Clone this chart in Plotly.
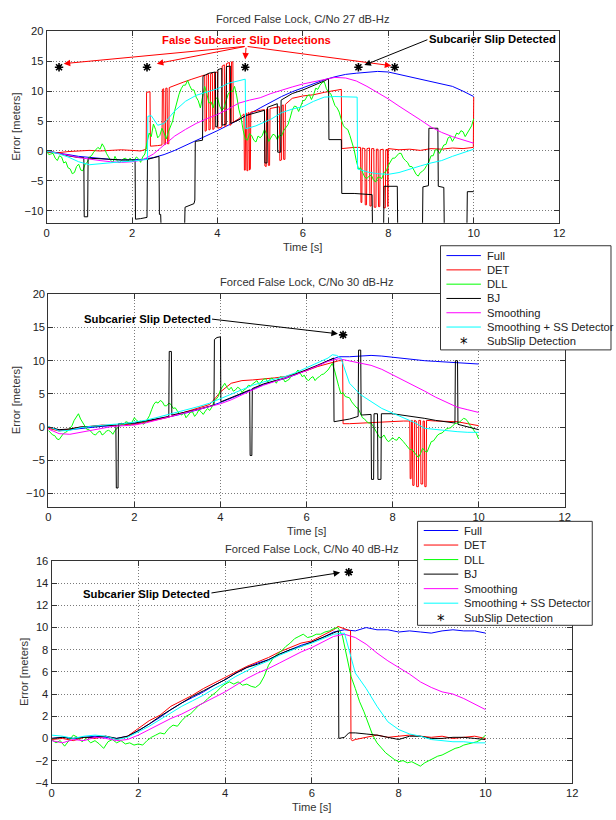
import plotly.graph_objects as go

W, H = 616, 820
FONT = "Liberation Sans, Arial, sans-serif"

# ---------------- time grids ----------------
T_Q = [0.0, 0.25, 0.5, 0.75, 1.0, 1.25, 1.5, 1.75, 2.0, 2.25, 2.5, 2.75, 3.0, 3.25, 3.5, 3.75,
       4.0, 4.25, 4.5, 4.75, 5.0, 5.25, 5.5, 5.75, 6.0, 6.25, 6.5, 6.75, 7.0, 7.25, 7.5, 7.75,
       8.0, 8.25, 8.5, 8.75, 9.0, 9.25, 9.5, 9.75, 10.0]
T_D = [0.0, 0.1, 0.2, 0.3, 0.4, 0.5, 0.6, 0.7, 0.8, 0.9, 1.0, 1.1, 1.2, 1.3, 1.4, 1.5, 1.6, 1.7,
       1.8, 1.9, 2.0, 2.1, 2.2, 2.3, 2.4, 2.5, 2.6, 2.7, 2.8, 2.9, 3.0, 3.1, 3.2, 3.3, 3.4, 3.5,
       3.6, 3.7, 3.8, 3.9, 4.0, 4.1, 4.2, 4.3, 4.4, 4.5, 4.6, 4.7, 4.8, 4.9, 5.0, 5.1, 5.2, 5.3,
       5.4, 5.5, 5.6, 5.7, 5.8, 5.9, 6.0, 6.1, 6.2, 6.3, 6.4, 6.5, 6.6, 6.7, 6.8, 6.9, 7.0, 7.1,
       7.2, 7.3, 7.4, 7.5, 7.6, 7.7, 7.8, 7.9, 8.0, 8.1, 8.2, 8.3, 8.4, 8.5, 8.6, 8.7, 8.8, 8.9,
       9.0, 9.1, 9.2, 9.3, 9.4, 9.5, 9.6, 9.7, 9.8, 9.9, 10.0]
T_H = [0.0, 0.05, 0.1, 0.15, 0.2, 0.25, 0.3, 0.35, 0.4, 0.45, 0.5, 0.55, 0.6, 0.65, 0.7, 0.75, 0.8, 0.85, 0.9, 0.95,
       1.0, 1.05, 1.1, 1.15, 1.2, 1.25, 1.3, 1.35, 1.4, 1.45, 1.5, 1.55, 1.6, 1.65, 1.7, 1.75, 1.8, 1.85, 1.9, 1.95,
       2.0, 2.05, 2.1, 2.15, 2.2, 2.25, 2.3, 2.35, 2.4, 2.45, 2.5, 2.55, 2.6, 2.65, 2.7, 2.75, 2.8, 2.85, 2.9, 2.95,
       3.0, 3.05, 3.1, 3.15, 3.2, 3.25, 3.3, 3.35, 3.4, 3.45, 3.5, 3.55, 3.6, 3.65, 3.7, 3.75, 3.8, 3.85, 3.9, 3.95,
       4.0, 4.05, 4.1, 4.15, 4.2, 4.25, 4.3, 4.35, 4.4, 4.45, 4.5, 4.55, 4.6, 4.65, 4.7, 4.75, 4.8, 4.85, 4.9, 4.95,
       5.0, 5.05, 5.1, 5.15, 5.2, 5.25, 5.3, 5.35, 5.4, 5.45, 5.5, 5.55, 5.6, 5.65, 5.7, 5.75, 5.8, 5.85, 5.9, 5.95,
       6.0, 6.05, 6.1, 6.15, 6.2, 6.25, 6.3, 6.35, 6.4, 6.45, 6.5, 6.55, 6.6, 6.65, 6.7, 6.75, 6.8, 6.85, 6.9, 6.95,
       7.0, 7.05, 7.1, 7.15, 7.2, 7.25, 7.3, 7.35, 7.4, 7.45, 7.5, 7.55, 7.6, 7.65, 7.7, 7.75, 7.8, 7.85, 7.9, 7.95,
       8.0, 8.05, 8.1, 8.15, 8.2, 8.25, 8.3, 8.35, 8.4, 8.45, 8.5, 8.55, 8.6, 8.65, 8.7, 8.75, 8.8, 8.85, 8.9, 8.95,
       9.0, 9.05, 9.1, 9.15, 9.2, 9.25, 9.3, 9.35, 9.4, 9.45, 9.5, 9.55, 9.6, 9.65, 9.7, 9.75, 9.8, 9.85, 9.9, 9.95,
       10.0]

X_TICKS = [0, 2, 4, 6, 8, 10, 12]
Y_TICKS_A = [-10, -5, 0, 5, 10, 15, 20]
Y_TICKS_B = [-4, -2, 0, 2, 4, 6, 8, 10, 12, 14, 16]

TITLES = ["Forced False Lock, C/No 27 dB-Hz", "Forced False Lock, C/No 30 dB-Hz",
          "Forced False Lock, C/No 40 dB-Hz"]
LEGEND_LABELS = ["Full", "DET", "DLL", "BJ", "Smoothing", "Smoothing + SS Detector", "SubSlip Detection"]
COLORS = ["#0000ff", "#ff0000", "#00ff00", "#000000", "#ff00ff", "#00ffff", "#000000"]

# ---------------- panel 1 : 27 dB-Hz ----------------
p1_full = [-0.1, -0.3, -0.6, -0.9, -1.1, -1.3, -1.4, -1.5, -1.5, -1.4, -1.1, -0.6, 0.1, 0.9, 1.8, 2.6,
           3.4, 4.3, 5.2, 6.2, 7.2, 8.2, 9.1, 9.9, 10.6, 11.3, 11.9, 12.4, 12.8, 13.0, 13.2, 13.3,
           13.2, 12.8, 12.4, 12.1, 11.7, 11.3, 10.8, 10.0, 9.1]
p1_smooth = [0.0, -0.3, -0.7, -1.1, -1.4, -1.6, -1.8, -1.9, -1.8, -1.5, -0.5, 1.0, 2.5, 3.6, 4.6, 5.4,
             6.1, 7.0, 8.0, 8.5, 8.9, 9.6, 10.2, 10.7, 11.2, 11.6, 12.0, 12.3, 12.2, 11.7, 10.8, 9.8,
             8.7, 7.5, 6.4, 5.2, 4.0, 3.1, 2.4, 1.8, 1.3]
p1_ss = [(0.0, 0.0), (0.25, -0.4), (0.5, -1.0), (0.75, -1.8), (1.0, -2.3), (1.25, -2.1), (1.5, -1.9),
         (1.75, -1.8), (2.0, -1.7), (2.3, -1.5), (2.36, -1.4), (2.37, 5.8), (2.45, 5.9), (2.6, 4.3),
         (2.75, 4.6), (3.0, 6.7), (3.25, 8.3), (3.5, 9.3), (3.75, 9.9), (4.0, 10.4), (4.25, 11.3),
         (4.5, 11.8), (4.65, 12.0), (4.66, 3.7), (4.9, 4.2), (5.25, 5.3), (5.5, 6.4), (5.75, 7.0),
         (6.0, 7.4), (6.25, 8.3), (6.5, 9.0), (6.75, 9.1), (7.0, 9.1), (7.27, 9.0), (7.28, -3.0),
         (7.5, -3.5), (7.75, -3.8), (8.0, -3.9), (8.25, -3.6), (8.5, -3.0), (8.75, -2.5), (9.0, -2.0),
         (9.25, -1.6), (9.5, -0.9), (9.75, -0.3), (10.0, 0.3)]
p1_det = [(0.0, -0.2), (0.25, -0.3), (0.5, -0.1), (0.75, 0.0), (1.0, 0.1), (1.25, 0.0), (1.5, 0.1),
          (1.75, 0.2), (2.0, 0.1), (2.2, 0.0), (2.33, 0.3), (2.34, 9.8), (2.42, 9.9), (2.43, 0.8),
          (2.6, 0.9), (2.7, 1.0), (2.71, 10.3), (2.74, 10.4), (2.75, 1.1), (2.78, 1.1), (2.79, 10.5),
          (2.82, 10.5), (2.83, 1.2), (2.86, 1.2), (2.87, 10.6), (3.0, 11.0), (3.2, 11.5), (3.4, 12.0),
          (3.6, 12.5), (3.7, 12.7), (3.71, 3.3), (3.74, 3.4), (3.75, 12.8), (3.79, 12.8), (3.8, 3.5),
          (3.83, 3.6), (3.84, 12.9), (3.88, 13.0), (3.89, 3.6), (3.92, 3.7), (3.93, 13.1), (4.0, 13.2),
          (4.01, 3.8), (4.1, 4.0), (4.11, 14.2), (4.16, 14.4), (4.17, 4.1), (4.2, 4.2), (4.21, 14.6),
          (4.28, 14.8), (4.29, 4.3), (4.32, 4.4), (4.33, 14.9), (4.36, 14.9), (4.37, 4.8), (4.5, 5.4),
          (4.62, 6.2), (4.63, -3.2), (4.65, -3.2), (4.66, 6.3), (4.68, 6.3), (4.69, -3.3), (4.71, -3.3),
          (4.72, 6.4), (4.74, 6.4), (4.75, -3.2), (4.77, -3.0), (4.78, 6.5), (5.0, 6.8), (5.1, 6.9),
          (5.11, -2.5), (5.14, -2.6), (5.15, 7.0), (5.18, 7.0), (5.19, -2.4), (5.22, -2.4), (5.23, 7.1),
          (5.45, 7.4), (5.46, -1.6), (5.5, -1.5), (5.51, 7.6), (5.54, 7.7), (5.55, -1.4), (5.58, -1.4),
          (5.59, 7.8), (5.75, 8.8), (6.0, 9.2), (6.25, 9.4), (6.5, 9.8), (6.75, 10.1), (6.9, 10.3),
          (6.91, 0.4), (7.0, 0.5), (7.2, 0.6), (7.35, 0.6), (7.36, -8.6), (7.38, -8.6), (7.39, 0.5),
          (7.45, 0.4), (7.46, -9.0), (7.49, -9.0), (7.5, 0.4), (7.56, 0.5), (7.57, -9.2), (7.6, -9.2),
          (7.61, 0.4), (7.66, 0.4), (7.67, -9.4), (7.71, -9.4), (7.72, 0.3), (7.76, 0.3), (7.77, -9.3),
          (7.8, -9.3), (7.81, 0.2), (7.88, 0.3), (7.89, -9.5), (7.93, -9.5), (7.94, 0.2), (7.98, 0.3),
          (7.99, -9.3), (8.0, 0.4), (8.25, 0.2), (8.5, 0.3), (8.75, 0.1), (9.0, 0.4), (9.25, 0.3),
          (9.5, 0.5), (9.75, 0.4), (9.99, 0.6), (10.0, 9.0)]
p1_bj = [(0.0, 0.0), (0.25, -0.3), (0.5, -0.8), (0.75, -1.1), (0.87, -1.1), (0.88, -11.0), (0.96, -11.0),
         (0.97, -1.2), (1.25, -1.3), (1.5, -1.4), (1.75, -1.5), (2.07, -1.5), (2.08, -11.4), (2.2, -11.3),
         (2.35, -11.1), (2.36, -1.4), (2.5, -1.1), (2.63, -0.9), (2.64, -10.6), (2.67, -10.6),
         (2.68, -13.0), (3.23, -13.0), (3.24, -9.4), (3.45, -8.8), (3.47, -8.2), (3.48, 1.6), (3.65, 1.8),
         (3.66, 12.5), (3.8, 13.0), (3.95, 13.2), (3.96, 4.0), (4.0, 4.1), (4.01, 13.6), (4.1, 13.8),
         (4.11, 4.3), (4.2, 4.5), (4.21, 14.1), (4.3, 14.2), (4.31, 4.6), (4.5, 5.2), (4.65, 5.9),
         (4.9, 6.4), (5.1, 6.8), (5.11, -2.0), (5.16, -2.0), (5.17, 7.3), (5.3, 7.7), (5.4, 7.9),
         (5.41, -0.2), (5.48, -0.2), (5.49, 8.5), (5.75, 9.6), (6.0, 10.2), (6.25, 10.9), (6.5, 11.7),
         (6.6, 12.1), (6.61, 1.9), (6.9, 1.9), (6.91, -7.1), (7.2, -7.1), (7.4, -7.2), (7.62, -7.3),
         (7.63, -13.0), (7.89, -13.0), (7.9, -5.9), (8.21, -5.9), (8.22, -13.0), (8.8, -13.0),
         (8.81, -6.0), (8.94, -5.8), (8.95, 3.8), (9.16, 3.8), (9.17, -5.9), (9.3, -6.1), (9.31, -13.0),
         (9.84, -13.0), (9.85, -6.8), (10.0, -6.8)]
p1_dll = [0.0, -0.6, -0.5, -0.4, -1.2, -1.6, -0.8, -1.0, -2.0, -1.8, -2.8, -3.0, -3.8, -3.6, -2.6, -2.2, -3.2, -3.3, -2.2, -1.9,
          -1.0, -0.8, -0.2, 0.2, 0.6, 0.3, 1.2, 0.6, -0.4, -1.0, -1.6, -1.9, -0.9, -1.6, -2.0, -1.6, -1.3, -1.2, -1.8, -1.2,
          -1.5, -1.6, -1.0, -1.3, -1.9, -1.0, -0.5, 1.4, 3.0, 2.4, 4.5, 3.6, 2.2, 2.6, 3.8, 3.0, 2.0, 3.2, 4.0, 5.0,
          6.8, 8.4, 9.5, 10.4, 11.0, 11.0, 11.8, 10.9, 10.2, 10.2, 9.0, 8.4, 7.2, 9.0, 10.8, 9.6, 8.0, 8.2, 7.2, 8.6,
          9.0, 7.5, 6.8, 7.2, 8.5, 9.5, 10.0, 9.9, 10.8, 9.2, 7.0, 5.6, 3.5, 2.0, 1.8, 2.9, 2.6, 1.8, 1.5, 2.5,
          2.2, 2.6, 3.6, 2.8, 1.6, 2.3, 2.8, 2.6, 1.9, 2.7, 2.5, 3.4, 4.0, 4.4, 5.5, 6.8, 7.5, 7.4, 6.6, 7.4,
          8.4, 8.5, 9.2, 9.4, 8.6, 9.4, 10.5, 10.3, 11.0, 11.4, 11.6, 10.4, 9.8, 9.6, 8.6, 7.6, 7.2, 6.5, 5.2, 4.2,
          3.8, 3.6, 2.6, 1.5, 0.2, -1.6, -3.0, -2.8, -3.6, -4.4, -4.6, -4.2, -4.0, -4.8, -5.2, -4.4, -4.4, -4.6, -3.6, -3.4,
          -2.4, -1.8, -1.2, -1.2, -0.8, -0.4, -0.4, -1.2, -1.6, -1.9, -2.6, -2.6, -3.2, -3.9, -4.2, -3.6, -3.4, -3.0, -2.4, -1.8,
          -0.8, -0.8, 0.2, 0.2, -0.4, 0.4, 1.0, 1.1, 2.2, 2.4, 1.6, 2.2, 3.0, 2.8, 3.4, 3.2, 2.4, 3.0, 3.6, 4.2,
          5.4]
p1_slip_t = [0.29, 2.35, 4.65, 7.30, 8.15]
p1_slip_v = [14.0, 14.0, 14.0, 14.0, 14.0]

# ---------------- panel 2 : 30 dB-Hz ----------------
p2_full = [0.0, -0.5, -0.4, -0.2, 0.0, 0.1, 0.2, 0.3, 0.5, 0.8, 1.1, 1.5, 1.8, 2.2, 2.6, 3.1,
           3.7, 4.3, 5.0, 5.7, 6.4, 6.9, 7.3, 7.9, 8.5, 9.2, 10.0, 10.6, 10.6, 10.7, 10.8, 10.7,
           10.5, 10.4, 10.2, 10.0, 9.9, 9.8, 9.7, 9.6, 9.5]
p2_smooth = [-0.3, -1.0, -1.1, -0.8, -0.4, -0.1, 0.1, 0.2, 0.3, 0.6, 1.0, 1.4, 1.8, 2.2, 2.6, 3.1,
             3.5, 4.1, 4.9, 5.6, 6.3, 6.8, 7.3, 7.9, 8.5, 9.2, 9.9, 10.3, 10.0, 9.7, 9.3, 8.7,
             7.9, 7.1, 6.3, 5.4, 4.5, 3.7, 3.0, 2.6, 2.2]
p2_ss = [(0.0, 0.1), (0.25, -0.6), (0.5, -0.5), (0.75, -0.1), (1.0, 0.1), (1.25, 0.3), (1.5, 0.4),
         (1.75, 0.5), (2.0, 0.7), (2.25, 1.0), (2.5, 1.4), (2.75, 1.8), (3.0, 2.2), (3.25, 2.6),
         (3.5, 3.1), (3.75, 3.6), (4.0, 4.3), (4.25, 5.0), (4.5, 5.7), (4.75, 6.3), (5.0, 6.8),
         (5.25, 7.2), (5.5, 7.6), (5.75, 8.2), (6.0, 8.9), (6.25, 9.6), (6.5, 10.4), (6.6, 10.9),
         (6.7, 10.8), (6.8, 10.4), (7.0, 6.6), (7.25, 4.9), (7.5, 3.8), (7.75, 2.8), (8.0, 2.1),
         (8.25, 1.4), (8.5, 0.7), (8.75, -0.2), (9.0, -0.4), (9.25, -0.6), (9.5, -0.7), (9.75, -0.8),
         (10.0, -0.8)]
p2_det = [(0.0, -0.2), (0.25, -0.6), (0.5, -0.3), (0.75, 0.0), (1.0, 0.1), (1.25, 0.3), (1.5, 0.2),
          (1.75, 0.4), (2.0, 0.4), (2.25, 0.7), (2.5, 1.0), (2.75, 1.4), (3.0, 1.9), (3.25, 2.4),
          (3.5, 2.8), (3.75, 3.4), (3.9, 4.5), (4.0, 5.3), (4.25, 6.6), (4.5, 7.0), (4.75, 7.1),
          (5.0, 7.2), (5.25, 7.4), (5.5, 7.6), (5.75, 8.0), (6.0, 8.5), (6.25, 9.1), (6.5, 9.6),
          (6.75, 10.0), (6.84, 10.0), (6.85, 0.5), (7.0, 0.5), (7.25, 0.6), (7.5, 0.7), (7.75, 0.8),
          (8.0, 0.8), (8.25, 0.9), (8.4, 0.9), (8.41, -7.8), (8.43, -7.8), (8.44, 1.0), (8.46, 1.0),
          (8.47, -8.8), (8.5, -8.8), (8.51, 1.0), (8.55, 0.9), (8.56, -9.0), (8.6, -9.0), (8.61, 1.0),
          (8.65, 1.0), (8.66, -8.6), (8.7, -8.6), (8.71, 0.9), (8.74, 0.9), (8.75, -9.0), (8.78, -9.0),
          (8.79, 1.0), (9.0, 0.9), (9.25, 0.8), (9.5, 0.8), (9.75, 0.5), (10.0, 0.2)]
p2_bj = [(0.0, 0.0), (0.25, -0.4), (0.5, -0.3), (0.75, 0.0), (1.0, 0.1), (1.25, 0.2), (1.5, 0.3),
         (1.57, 0.3), (1.58, -9.2), (1.62, -9.2), (1.63, 0.5), (2.0, 0.6), (2.25, 0.9), (2.5, 1.2),
         (2.8, 1.6), (2.81, 11.4), (2.86, 11.4), (2.87, 1.8), (3.25, 2.3), (3.5, 2.7), (3.85, 3.3),
         (3.86, 13.2), (3.92, 13.5), (4.0, 13.6), (4.01, 3.8), (4.25, 4.4), (4.5, 5.1), (4.68, 5.6),
         (4.69, -4.3), (4.73, -4.3), (4.74, 5.8), (5.0, 6.5), (5.25, 6.9), (5.5, 7.4), (5.75, 8.0),
         (6.0, 8.6), (6.25, 9.3), (6.5, 10.0), (6.63, 10.4), (6.64, 0.8), (6.75, 0.9), (7.0, 1.2),
         (7.2, 1.6), (7.21, 11.6), (7.26, 11.6), (7.27, 1.8), (7.5, 1.9), (7.51, -7.9), (7.56, -7.9),
         (7.57, 2.0), (7.65, 2.0), (7.66, -7.9), (7.73, -7.9), (7.74, 2.0), (8.0, 2.0), (8.25, 1.8),
         (8.5, 1.5), (8.75, 1.3), (9.0, 1.0), (9.25, 0.8), (9.45, 0.6), (9.46, 10.0), (9.51, 10.0),
         (9.52, 0.4), (9.75, 0.0), (10.0, -0.4)]
p2_dll = [-0.5, -0.9, -1.2, -1.3, -1.8, -1.9, -1.5, -1.0, -0.8, -0.6, -0.2, 0.2, 1.0, 1.6, 2.0, 1.2, 0.6, 0.2, -0.4, -0.4,
          -0.8, -1.1, -1.2, -0.8, -0.6, -1.2, -1.0, -0.6, -0.5, -0.7, -1.1, -0.5, -0.2, 0.1, 0.6, 0.3, 0.8, 0.7, 0.2, 0.9,
          1.4, 1.0, 0.8, 0.9, 0.4, 0.6, 1.2, 1.7, 2.6, 3.4, 3.8, 3.6, 4.0, 3.8, 3.2, 3.2, 3.6, 3.4, 2.8, 2.9,
          2.4, 2.0, 1.8, 2.2, 1.4, 1.8, 2.2, 2.3, 1.6, 2.0, 2.6, 2.3, 1.9, 2.4, 2.8, 2.5, 3.0, 3.8, 4.2, 4.6,
          5.6, 6.2, 6.6, 6.0, 5.6, 6.0, 5.4, 5.6, 6.0, 5.8, 5.2, 5.6, 5.8, 6.3, 6.2, 6.5, 6.8, 7.0, 6.4, 6.8,
          7.2, 7.3, 6.8, 7.2, 7.4, 7.0, 6.6, 7.3, 7.6, 7.4, 6.8, 7.0, 7.2, 7.8, 8.0, 8.1, 8.6, 8.2, 7.6, 7.8,
          7.2, 7.0, 7.4, 7.6, 7.0, 7.4, 7.6, 7.9, 8.0, 8.3, 8.6, 9.1, 9.6, 8.6, 7.2, 6.1, 5.0, 5.2, 4.6, 4.5,
          4.4, 3.8, 3.4, 3.0, 2.8, 2.2, 1.4, 1.2, 0.8, 0.6, 0.6, 0.1, -0.4, -1.0, -1.6, -1.6, -1.2, -1.8, -2.2, -2.0,
          -1.6, -1.9, -2.0, -1.5, -1.8, -2.2, -2.6, -3.1, -3.4, -3.4, -3.8, -4.3, -4.6, -4.0, -3.2, -3.6, -3.8, -3.0, -2.2, -2.1,
          -1.6, -1.2, -1.0, -0.9, -0.6, -0.3, -0.2, -0.1, 0.2, 0.5, 0.6, 0.7, 1.0, 1.3, 1.2, 0.8, 0.2, -0.1, -0.6, -1.0,
          -1.8]
p2_slip_t = [6.85]
p2_slip_v = [13.9]

# ---------------- panel 3 : 40 dB-Hz ----------------
p3_full = [0.0, 0.1, 0.0, 0.1, 0.2, 0.1, 0.0, 0.2, 0.7, 1.3, 1.9, 2.6, 3.2, 3.7, 4.2, 4.8,
           5.3, 5.9, 6.4, 6.8, 7.1, 7.6, 8.0, 8.4, 8.7, 9.1, 9.6, 9.8, 9.7, 10.0, 9.8, 9.8,
           9.6, 9.7, 9.6, 9.5, 9.7, 9.8, 9.7, 9.7, 9.5]
p3_smooth = [-0.2, -0.4, -0.1, -0.2, 0.1, 0.0, -0.2, -0.1, 0.3, 0.8, 1.3, 1.8, 2.2, 2.7, 3.2, 3.7,
             4.2, 4.8, 5.4, 5.9, 6.3, 6.8, 7.3, 7.8, 8.2, 8.7, 9.2, 9.4, 9.1, 8.5, 7.7, 7.0,
             6.4, 5.8, 5.1, 4.6, 4.2, 4.0, 3.6, 3.1, 2.6]
p3_ss = [(0.0, 0.3), (0.25, 0.2), (0.5, 0.0), (0.75, 0.2), (1.0, 0.3), (1.25, 0.2), (1.5, -0.1),
         (1.75, 0.1), (2.0, 0.6), (2.25, 1.1), (2.5, 1.7), (2.75, 2.3), (3.0, 2.9), (3.25, 3.4),
         (3.5, 3.9), (3.75, 4.5), (4.0, 5.0), (4.25, 5.6), (4.5, 6.1), (4.75, 6.6), (5.0, 7.0),
         (5.25, 7.5), (5.5, 7.9), (5.75, 8.3), (6.0, 8.6), (6.25, 9.0), (6.5, 9.4), (6.75, 9.5),
         (6.9, 7.4), (7.0, 5.9), (7.25, 4.5), (7.5, 2.9), (7.75, 1.5), (8.0, 0.8), (8.25, 0.4),
         (8.5, 0.2), (8.75, -0.1), (9.0, -0.2), (9.25, -0.3), (9.5, -0.3), (9.75, -0.4), (10.0, -0.4)]
p3_det = [(0.0, -0.1), (0.25, 0.0), (0.5, -0.2), (0.75, 0.1), (1.0, 0.0), (1.25, 0.2), (1.5, -0.1),
          (1.75, 0.2), (2.0, 0.9), (2.25, 1.6), (2.5, 2.1), (2.75, 2.9), (3.0, 3.4), (3.25, 3.9),
          (3.5, 4.5), (3.75, 5.0), (4.0, 5.5), (4.25, 6.0), (4.5, 6.5), (4.75, 6.9), (5.0, 7.3),
          (5.25, 7.8), (5.5, 8.2), (5.75, 8.6), (6.0, 8.8), (6.25, 9.3), (6.5, 9.8), (6.6, 10.1),
          (6.75, 9.9), (6.89, 9.7), (6.9, -0.1), (6.93, -0.2), (7.0, -0.1), (7.25, 0.1), (7.5, 0.3),
          (7.75, 0.1), (8.0, 0.2), (8.25, 0.3), (8.5, 0.2), (8.75, 0.1), (9.0, 0.2), (9.25, 0.0),
          (9.5, 0.1), (9.75, 0.2), (10.0, 0.0)]
p3_bj = [(0.0, 0.0), (0.25, 0.1), (0.5, 0.0), (0.75, 0.1), (1.0, 0.1), (1.25, 0.2), (1.5, 0.0),
         (1.75, 0.2), (2.0, 0.7), (2.25, 1.3), (2.5, 2.0), (2.75, 2.6), (3.0, 3.2), (3.25, 3.8),
         (3.5, 4.3), (3.75, 4.8), (4.0, 5.3), (4.25, 5.9), (4.5, 6.4), (4.75, 6.7), (5.0, 7.1),
         (5.25, 7.6), (5.5, 8.0), (5.75, 8.3), (6.0, 8.7), (6.25, 9.1), (6.5, 9.5), (6.61, 9.7),
         (6.62, 0.0), (6.75, 0.1), (6.85, 0.5), (7.0, 0.5), (7.25, 0.4), (7.5, 0.3), (7.75, 0.1),
         (8.0, -0.1), (8.25, 0.2), (8.5, 0.2), (8.75, 0.0), (9.0, 0.0), (9.25, 0.1), (9.5, 0.1),
         (9.75, 0.0), (10.0, -0.1)]
p3_dll = [-0.1, -0.4, -0.2, -0.7, -0.2, 0.3, 0.1, -0.3, 0.0, -0.4, -0.2, -0.5, -0.9, -0.3, -0.1, -0.4,
          -0.2, -0.5, -0.4, -0.6, -0.5, -0.6, -0.2, 0.1, 0.3, 0.5, 0.4, 0.9, 1.2, 1.1, 1.6, 2.0,
          2.2, 2.6, 3.0, 3.2, 3.6, 3.9, 4.2, 4.6, 4.9, 5.1, 4.9, 5.1, 4.8, 4.9, 4.7, 4.6,
          4.9, 5.6, 6.6, 7.2, 7.6, 7.9, 8.3, 8.6, 9.0, 9.2, 9.4, 9.1, 9.2, 9.4, 9.4, 9.6,
          9.7, 9.9, 10.0, 9.3, 7.5, 5.6, 4.5, 3.3, 2.4, 1.3, 0.3, -0.4, -0.9, -1.3, -1.6, -1.9,
          -2.1, -2.0, -2.2, -2.1, -2.3, -2.5, -2.2, -2.0, -1.8, -1.6, -1.5, -1.3, -1.1, -0.9, -0.8,
          -0.6, -0.5, -0.4, -0.3, -0.1, 0.3]
p3_slip_t = [6.85]
p3_slip_v = [15.0]


def unzip(pairs):
    return [p[0] for p in pairs], [p[1] for p in pairs]


def paired(tx, vy):
    n = min(len(tx), len(vy))
    return tx[:n], vy[:n]


panels = [
    dict(full=p1_full, det=p1_det, dll=p1_dll, dllt=T_H, bj=p1_bj, sm=p1_smooth, ss=p1_ss,
         st=p1_slip_t, sv=p1_slip_v),
    dict(full=p2_full, det=p2_det, dll=p2_dll, dllt=T_H, bj=p2_bj, sm=p2_smooth, ss=p2_ss,
         st=p2_slip_t, sv=p2_slip_v),
    dict(full=p3_full, det=p3_det, dll=p3_dll, dllt=T_D, bj=p3_bj, sm=p3_smooth, ss=p3_ss,
         st=p3_slip_t, sv=p3_slip_v),
]

fig = go.Figure()
for i, p in enumerate(panels):
    xa = "x" if i == 0 else "x%d" % (i + 1)
    ya = "y" if i == 0 else "y%d" % (i + 1)
    det_t, det_v = unzip(p["det"])
    bj_t, bj_v = unzip(p["bj"])
    ss_t, ss_v = unzip(p["ss"])
    series = [
        (T_Q, p["full"]), (det_t, det_v), (p["dllt"], p["dll"]), (bj_t, bj_v),
        (T_Q, p["sm"]), (ss_t, ss_v),
    ]
    for k, (tx, vy) in enumerate(series):
        tx, vy = paired(tx, vy)
        fig.add_trace(go.Scatter(x=tx, y=vy, mode="lines", name=LEGEND_LABELS[k],
                                 line=dict(color=COLORS[k], width=1),
                                 xaxis=xa, yaxis=ya, showlegend=False))
    fig.add_trace(go.Scatter(x=p["st"], y=p["sv"], mode="markers", name=LEGEND_LABELS[6],
                             marker=dict(symbol="asterisk-open", size=7, color="black",
                                         line=dict(color="black", width=1.6)),
                             xaxis=xa, yaxis=ya, showlegend=False))


def px_x(v):
    return v / W


def px_y(v):
    return 1 - v / H


axis_common = dict(showline=True, linecolor="#333333", linewidth=1, mirror="allticks",
                   ticks="inside", ticklen=5, tickcolor="#333333", showgrid=True,
                   gridcolor="#7a7a7a", griddash="1px,2px", gridwidth=1, zeroline=False,
                   tickfont=dict(family=FONT, size=11.2, color="#222222"))

# plot-area boxes in pixels: (left, right, top, bottom)
boxes = [(44.3, 564.4, 25.7, 220.0), (46.0, 570.0, 292.7, 508.0), (49.3, 577.7, 563.3, 788.3)]
yranges = [[-12, 20], [-12, 20], [-4, 16]]
yticks = [Y_TICKS_A, Y_TICKS_A, Y_TICKS_B]

layout_axes = {}
for i, (l, r, t, b) in enumerate(boxes):
    sx = "xaxis" if i == 0 else "xaxis%d" % (i + 1)
    sy = "yaxis" if i == 0 else "yaxis%d" % (i + 1)
    layout_axes[sx] = dict(axis_common, domain=[px_x(l), px_x(r)], range=[0, 12],
                           tickvals=X_TICKS, anchor="y" if i == 0 else "y%d" % (i + 1))
    layout_axes[sy] = dict(axis_common, domain=[px_y(b), px_y(t)], range=yranges[i],
                           tickvals=yticks[i], anchor="x" if i == 0 else "x%d" % (i + 1))

ann = []
txt_font = dict(family=FONT, size=11.2, color="#333333")
ylab_x = [13.0, 14.0, 21.5]
for i, (l, r, t, b) in enumerate(boxes):
    ann.append(dict(text=TITLES[i], x=px_x((l + r) / 2), y=px_y(t - 12.5), xref="paper", yref="paper",
                    showarrow=False, font=txt_font, xanchor="center", yanchor="middle"))
    ann.append(dict(text="Time [s]", x=px_x((l + r) / 2), y=px_y(b + 24.5), xref="paper", yref="paper",
                    showarrow=False, font=txt_font, xanchor="center", yanchor="middle"))
    ann.append(dict(text="Error [meters]", x=px_x(ylab_x[i]), y=px_y((t + b) / 2), xref="paper",
                    yref="paper", showarrow=False, font=txt_font, textangle=-90,
                    xanchor="center", yanchor="middle"))

bold_black = dict(family=FONT, size=11.3, color="black")
bold_red = dict(family=FONT, size=11.3, color="red")

# panel 1 call-outs
ann.append(dict(text="<b>False Subcarier Slip Detections</b>", x=4.68, y=18.5, xref="x", yref="y",
                showarrow=False, font=bold_red))
for hx, hy in [(0.40, 14.6), (2.58, 14.6), (4.65, 15.3), (8.07, 14.25)]:
    ann.append(dict(text="", x=hx, y=hy, ax=4.67, ay=17.5, xref="x", yref="y", axref="x", ayref="y",
                    showarrow=True, arrowhead=2, arrowsize=1.3, arrowwidth=1, arrowcolor="red",
                    standoff=0, startstandoff=0))
ann.append(dict(text="<b>Subcarier Slip Detected</b>", x=10.45, y=18.75, xref="x", yref="y",
                showarrow=False, font=bold_black))
ann.append(dict(text="", x=7.44, y=14.35, ax=8.95, ay=18.7, xref="x", yref="y", axref="x", ayref="y",
                showarrow=True, arrowhead=2, arrowsize=1.3, arrowwidth=1, arrowcolor="black",
                standoff=0))
# panel 2
ann.append(dict(text="<b>Subcarier Slip Detected</b>", x=2.31, y=16.3, xref="x2", yref="y2",
                showarrow=False, font=bold_black))
ann.append(dict(text="", x=6.73, y=14.06, ax=3.77, ay=16.3, xref="x2", yref="y2", axref="x2",
                ayref="y2", showarrow=True, arrowhead=2, arrowsize=1.3, arrowwidth=1,
                arrowcolor="black", standoff=0))
# panel 3
ann.append(dict(text="<b>Subcarier Slip Detected</b>", x=2.19, y=13.04, xref="x3", yref="y3",
                showarrow=False, font=bold_black))
ann.append(dict(text="", x=6.65, y=14.96, ax=3.65, ay=13.1, xref="x3", yref="y3", axref="x3",
                ayref="y3", showarrow=True, arrowhead=2, arrowsize=1.3, arrowwidth=1,
                arrowcolor="black", standoff=0))

# hand-drawn MATLAB-style legends (box, line samples, labels)
shapes = []
legends = [
    dict(x0=444.0, x1=617.0, y0=243.3, y1=349.0, first=253.3, step=14.5, l0=450.0, l1=485.0,
         tx=489.0, star=468.0),
    dict(x0=420.7, x1=598.0, y0=523.0, y1=628.5, first=532.3, step=14.75, l0=427.0, l1=462.0,
         tx=466.0, star=445.0),
]
leg_font = dict(family=FONT, size=11.2, color="#222222")
for lg in legends:
    shapes.append(dict(type="rect", xref="paper", yref="paper", x0=px_x(lg["x0"]), x1=px_x(lg["x1"]),
                       y0=px_y(lg["y1"]), y1=px_y(lg["y0"]), line=dict(color="#333333", width=1),
                       fillcolor="white", layer="above"))
    for k, lab in enumerate(LEGEND_LABELS):
        yy = lg["first"] + k * lg["step"]
        if k < 6:
            shapes.append(dict(type="line", xref="paper", yref="paper", x0=px_x(lg["l0"]),
                               x1=px_x(lg["l1"]), y0=px_y(yy), y1=px_y(yy),
                               line=dict(color=COLORS[k], width=1), layer="above"))
        else:
            ann.append(dict(text="*", x=px_x(lg["star"]), y=px_y(yy), xref="paper", yref="paper",
                            showarrow=False, font=dict(family="DejaVu Sans", size=15, color="black"),
                            xanchor="center", yanchor="middle", yshift=-3))
        ann.append(dict(text=lab, x=px_x(lg["tx"]), y=px_y(yy), xref="paper", yref="paper",
                        showarrow=False, font=leg_font, xanchor="left", yanchor="middle"))

fig.update_layout(width=W, height=H, margin=dict(l=0, r=0, t=0, b=0), paper_bgcolor="white",
                  plot_bgcolor="white", showlegend=False, annotations=ann, shapes=shapes,
                  font=dict(family=FONT), **layout_axes)

fig.write_html("out.html")
